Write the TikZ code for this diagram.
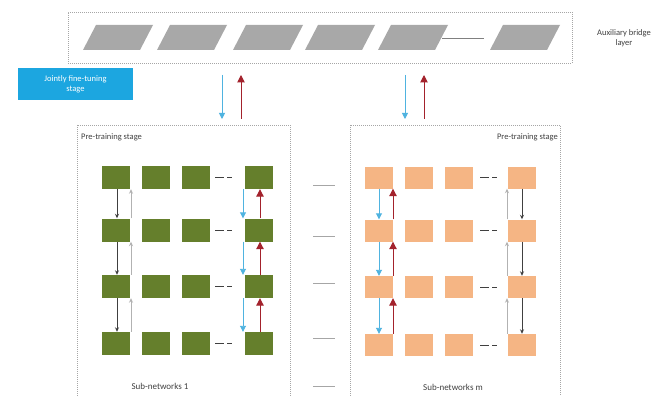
\documentclass[tikz,border=0pt]{standalone}
\usepackage{fontspec}
\setmainfont{Carlito}
\usetikzlibrary{arrows.meta}
\definecolor{sqgreen}{HTML}{657F2C}
\definecolor{sqorange}{HTML}{F5B584}
\definecolor{pgray}{HTML}{A8A8A8}
\definecolor{jcyan}{HTML}{1CA6E0}
\definecolor{barrow}{HTML}{4FB3E0}
\definecolor{rarrow}{HTML}{A3222C}
\definecolor{txt}{HTML}{404040}
\begin{document}
\begin{tikzpicture}[x=1pt,y=-1pt,
  gsq/.style={fill=sqgreen,minimum width=28pt,minimum height=23pt,inner sep=0pt},
  osq/.style={fill=sqorange,minimum width=28pt,minimum height=22pt,inner sep=0pt},
  frame/.style={draw=gray!70,dash pattern=on 1pt off 1pt,line width=0.7pt},
  darr/.style={draw=txt,line width=0.8pt,-{Stealth[length=4.5pt,width=4pt]}},
  larr/.style={draw=gray!60,line width=0.8pt,-{Stealth[length=4.5pt,width=4pt]}},
  barr/.style={draw=barrow,line width=0.9pt,-{Triangle[length=6pt,width=6pt]}},
  rarr/.style={draw=rarrow,line width=1pt,-{Triangle[length=7.5pt,width=7.5pt]}},
  lbl/.style={text=txt,font=\fontsize{8.5}{10}\selectfont,align=center,inner sep=0pt},
  sep/.style={draw=gray!70,line width=0.7pt},
  dots/.style={draw=txt,line width=0.7pt,dash pattern=on 9pt off 3pt on 5pt off 20pt}]
\useasboundingbox (0,0) rectangle (665,396);
\clip (0,0) rectangle (665,396);
\fill[white] (0,0) rectangle (665,396);

% auxiliary bridge layer
\node[frame,minimum width=504pt,minimum height=51pt,inner sep=0pt] (bridge) at (320,37.5) {};
\foreach \x/\n in {83/1,157/2,233/3,305/4,378/5,490/6}
  \fill[pgray] (\x,50) -- (\x+57,50) -- (\x+70,25) -- (\x+13,25) -- cycle coordinate (p\n) at (\x+35,37.5);
\coordinate (bl1) at (442,38);
\coordinate (bl2) at (484,38);
\draw[sep,draw=gray] (bl1) -- (bl2);
\node[lbl] (auxlbl) at (624,38) {Auxiliary bridge\\layer};

% jointly fine-tuning
\node[fill=jcyan,text=white,minimum width=115pt,minimum height=32pt,inner sep=0pt,align=center,font=\fontsize{8.5}{10}\selectfont] (joint) at (75.5,84) {Jointly fine-tuning\\stage};

% top arrows
\coordinate (a1t) at (222,75); \coordinate (a1b) at (222,119);
\coordinate (a2t) at (241,75); \coordinate (a2b) at (241,119);
\coordinate (a3t) at (405,75); \coordinate (a3b) at (405,119);
\coordinate (a4t) at (424,75); \coordinate (a4b) at (424,119);
\draw[barr] (a1t) -- (a1b);
\draw[rarr] (a2b) -- (a2t);
\draw[barr] (a3t) -- (a3b);
\draw[rarr] (a4b) -- (a4t);

% panels
\draw[frame] (77,125) rectangle (290,400);
\draw[frame] (350,125) rectangle (560,400);
\node[lbl,anchor=west] (pt1) at (81,137) {Pre-training stage};
\node[lbl,anchor=east] (pt2) at (558,137) {Pre-training stage};
\node[lbl,font=\fontsize{9}{10}\selectfont] (sn1) at (160,386) {Sub-networks 1};
\node[lbl,font=\fontsize{9}{10}\selectfont] (snm) at (453,387) {Sub-networks m};

% left squares
\foreach \r/\y in {1/177.5,2/230,3/286.5,4/343.5}{
  \foreach \c/\x in {1/116,2/156,3/196,4/259}
    \node[gsq] (L-\r-\c) at (\x,\y) {};
  \draw[dots] (L-\r-3.east) ++(5pt,0) -- ([xshift=-5pt]L-\r-4.west);
}
% right squares
\foreach \r/\y in {1/177.5,2/230.5,3/287,4/345}{
  \foreach \c/\x in {1/379,2/419,3/459,4/521.5}
    \node[osq] (R-\r-\c) at (\x,\y) {};
  \draw[dots] (R-\r-3.east) ++(7pt,0) -- ([xshift=-5pt]R-\r-4.west);
}
% vertical arrows
\foreach \r/\s in {1/2,2/3,3/4}{
  \draw[darr] ([xshift=1pt]L-\r-1.south) -- ([xshift=1pt]L-\s-1.north);
  \draw[larr] ([xshift=15pt]L-\s-1.north) -- ([xshift=15pt]L-\r-1.south);
  \draw[barr] ([xshift=-16pt]L-\r-4.south) -- ([xshift=-16pt]L-\s-4.north);
  \draw[rarr] ([xshift=1pt]L-\s-4.north) -- ([xshift=1pt]L-\r-4.south);
  \draw[barr] (R-\r-1.south) -- (R-\s-1.north);
  \draw[rarr] ([xshift=14pt]R-\s-1.north) -- ([xshift=14pt]R-\r-1.south);
  \draw[larr] ([xshift=-14.5pt]R-\s-4.north) -- ([xshift=-14.5pt]R-\r-4.south);
  \draw[darr] ([xshift=0.5pt]R-\r-4.south) -- ([xshift=0.5pt]R-\s-4.north);
}
% separators between panels
\foreach \y [count=\i] in {185,236,283,338,386}{
  \coordinate (s\i a) at (313,\y);
  \coordinate (s\i b) at (335,\y);
  \draw[sep] (s\i a) -- (s\i b);
}
\end{tikzpicture}
\end{document}
